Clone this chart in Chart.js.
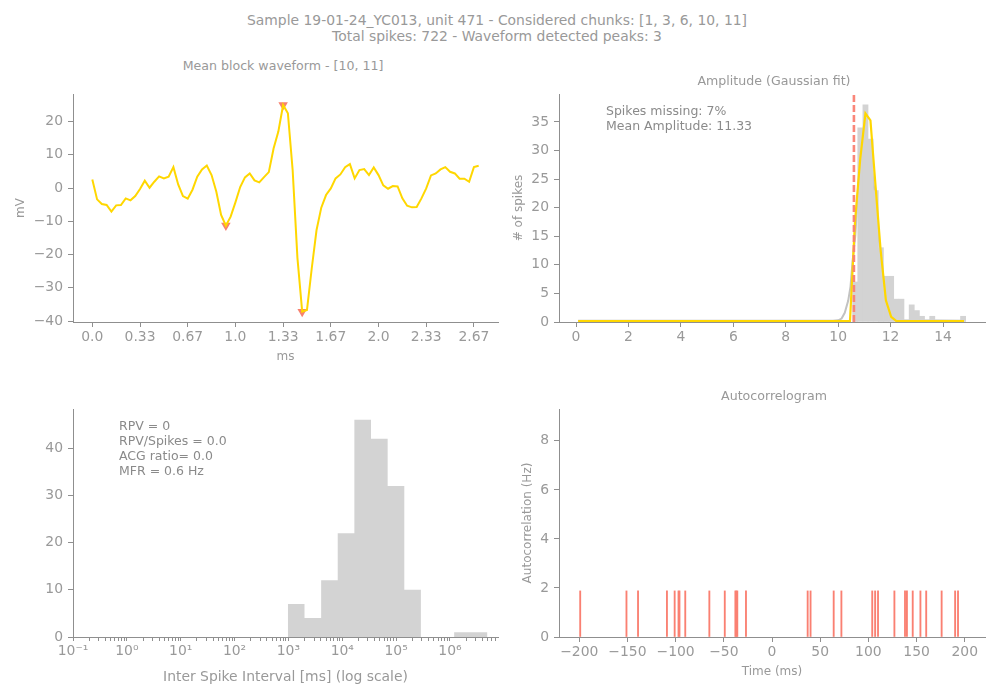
<!DOCTYPE html>
<html>
<head>
<meta charset="utf-8">
<script src="https://cdn.jsdelivr.net/npm/chart.js@4.4.1/dist/chart.umd.min.js"></script>
<style>
  body { margin: 0; background: #fff; }
  #fig { position: relative; width: 1000px; height: 700px; font-family: 'DejaVu Sans', sans-serif; color: #999; }
  canvas { position: absolute; }
  .txt { position: absolute; white-space: pre; }
</style>
</head>
<body>
<div id="fig">
  <canvas id="wave" width="505" height="300" style="left:0px;top:80px"></canvas>
  <canvas id="amp" width="495" height="300" style="left:505px;top:80px"></canvas>
  <canvas id="isi" width="505" height="305" style="left:0px;top:395px"></canvas>
  <canvas id="acg" width="495" height="305" style="left:505px;top:395px"></canvas>

  <div class="txt" style="left:0;width:994px;top:12px;font-size:13.9px;line-height:16px;text-align:center">Sample 19-01-24_YC013, unit 471 - Considered chunks: [1, 3, 6, 10, 11]
Total spikes: 722 - Waveform detected peaks: 3</div>
  <div class="txt" style="left:133px;width:300px;top:58px;font-size:12.6px;line-height:16px;text-align:center">Mean block waveform - [10, 11]</div>
  <div class="txt" style="left:624px;width:300px;top:73px;font-size:12.6px;line-height:16px;text-align:center">Amplitude (Gaussian fit)</div>
  <div class="txt" style="left:624px;width:300px;top:388px;font-size:12.6px;line-height:16px;text-align:center">Autocorrelogram</div>
  <div class="txt" style="left:606px;top:103px;font-size:12.5px;line-height:15px;color:#8a8a8a">Spikes missing: 7%
Mean Amplitude: 11.33</div>
  <div class="txt" style="left:119px;top:418px;font-size:12.5px;line-height:15px;color:#8a8a8a">RPV = 0
RPV/Spikes = 0.0
ACG ratio= 0.0
MFR = 0.6 Hz</div>
</div>

<script>
// ---- data ----
// mean waveform, one value per sample (30 kHz)
var sampleRateKhz = 30;
var waveformMv = [2.6, -3.4, -4.8, -5.1, -7.1, -5.2, -5.1, -3.1, -3.7, -2.4,
                  -0.3, 2.2, 0.1, 1.9, 3.5, 2.9, 3.4, 6.3, 1.1, -2.4,
                  -3.2, -0.5, 3.4, 5.6, 6.8, 3.9, -1.1, -8.1, -11.3, -8.6,
                  -4.3, 0.3, 3.2, 4.4, 2.3, 1.7, 3.3, 4.8, 11.9, 17.0,
                  25.0, 22.5, 5.4, -21.0, -37.2, -36.7, -24.2, -12.7, -5.9, -2.1,
                  -0.1, 2.9, 4.1, 6.3, 7.2, 2.9, 5.4, 5.7, 3.9, 6.2,
                  3.9, 0.8, -0.2, 0.6, 0.5, -3.1, -5.3, -5.8, -5.7, -3.1,
                  -0.1, 3.8, 4.4, 5.6, 6.3, 4.9, 4.4, 2.8, 2.8, 1.9,
                  6.3, 6.7];
var peakIdx = [28, 40, 44];
var waveXTicks = [0, 1 / 3, 2 / 3, 1, 4 / 3, 5 / 3, 2, 7 / 3, 8 / 3];
var waveXTickLabels = ["0.0", "0.33", "0.67", "1.0", "1.33", "1.67", "2.0", "2.33", "2.67"];
var waveYTicks = [-40, -30, -20, -10, 0, 10, 20];

// amplitude histogram
var ampBinStart = 10.55;
var ampBinWidth = 0.196;
var ampCounts = [7, 34, 38, 32, 23, 13, 8, 8, 4, 4, 0, 3, 2, 1, 0, 1, 0, 0, 0, 0, 0, 1];
var ampFitX = [0.08, 10.45, 10.64, 10.84, 11.04, 11.23, 11.43, 11.62, 11.82, 12.02, 12.21, 14.8];
var ampFitY = [0.17, 0.17, 17.5, 28.5, 36.5, 35.3, 23.5, 12.5, 3.8, 0.9, 0.2, 0.17];
var ampKdeX = [0.08, 9.8, 10.0, 10.13, 10.25, 10.38, 10.47, 10.55, 10.65, 10.8, 11.0, 11.2, 11.4, 11.6, 11.8, 12.0, 12.2, 12.5, 14.8];
var ampKdeY = [0.2, 0.2, 0.3, 0.6, 1.6, 3.7, 6.2, 10.7, 15, 26, 33, 31, 22, 12, 5, 2, 0.7, 0.3, 0.2];
var ampCutoff = 10.6;
var ampXTicks = [0, 2, 4, 6, 8, 10, 12, 14];
var ampYTicks = [0, 5, 10, 15, 20, 25, 30, 35];

// inter spike intervals (log bins, ms)
var isiEdgesMs = [977, 1991, 4055, 8241, 16788, 34198, 69663, 141906, 288403, 587489, 1196741, 2437810, 4965923];
var isiCounts = [7, 4, 12, 22, 46, 42, 32, 10, 0, 0, 1, 1];
var isiTickExps = [-1, 0, 1, 2, 3, 4, 5, 6];
var isiYTicks = [0, 10, 20, 30, 40];

// autocorrelogram
var acgLagsMs = [-199, -151, -139, -109, -101, -97, -96, -90, -65, -49, -38, -37, -36, -27,
                 37, 40, 64, 72, 104, 107, 110, 127, 138, 140, 146, 154, 160, 176, 190, 193];
var acgRateHz = [1.88, 1.88, 1.88, 1.88, 1.88, 1.88, 1.88, 1.88, 1.88, 1.88, 1.88, 1.88, 1.88, 1.88,
                 1.88, 1.88, 1.88, 1.88, 1.88, 1.88, 1.88, 1.88, 1.88, 1.88, 1.88, 1.88, 1.88, 1.88, 1.88, 1.88];
var acgXTicks = [-200, -150, -100, -50, 0, 50, 100, 150, 200];
var acgYTicks = [0, 2, 4, 6, 8];

// ---- styling helpers ----
var AXIS_GRAY = "#8f8f8f";
var TICK_GRAY = "#999999";
var LABEL_GRAY = "#999999";

Chart.defaults.font.family = "'DejaVu Sans', sans-serif";

function fmt(v) {
    return String(Math.round(v * 1000) / 1000).replace("-", "\u2212");
}

// horizontal (x) or vertical (y) axis with fixed ticks and a fixed box size
function axis(horizontal, tickValues, fit, extra) {
    var a = {
        offset: false,
        grid: { display: true, drawOnChartArea: false, drawTicks: true, tickLength: 5, tickColor: AXIS_GRAY, offset: false },
        border: { display: true, color: AXIS_GRAY, width: 1 },
        ticks: { color: TICK_GRAY, font: { size: 13.9 }, padding: horizontal ? 2 : 5, autoSkip: false, maxRotation: 0, minRotation: 0,
                 callback: function (v) { return fmt(v); } },
        afterBuildTicks: function (scale) {
            scale.ticks = tickValues.map(function (v) { return { value: v }; });
        },
        afterFit: fit
    };
    for (var k in extra) a[k] = extra[k];
    return a;
}

function title(text, size, pad) {
    return { display: true, text: text, color: LABEL_GRAY, font: { size: size }, padding: pad };
}

function options(pad, scales) {
    return {
        responsive: false,
        animation: false,
        layout: { padding: pad },
        plugins: { legend: { display: false }, tooltip: { enabled: false } },
        scales: scales
    };
}

function xy(xs, ys) {
    return xs.map(function (x, i) { return { x: x, y: ys[i] }; });
}

// ---- mean waveform ----
var waveX = axis(true, waveXTicks, function (s) { s.height = 58; },
    { type: "linear", min: -0.135, max: 2.835, title: title("ms", 12, { top: 0, bottom: 16 }) });
waveX.ticks.callback = function (v, i) { return waveXTickLabels[i]; };

new Chart(document.getElementById("wave"), {
    type: "line",
    data: {
        datasets: [{
            data: waveformMv.map(function (v, i) { return { x: i / sampleRateKhz, y: v }; }),
            borderColor: "#ffd700", borderWidth: 2, pointRadius: 0, tension: 0, order: 0
        }, {
            data: peakIdx.map(function (i) { return { x: i / sampleRateKhz, y: waveformMv[i] }; }),
            showLine: false, pointStyle: "triangle", pointRotation: 180, pointRadius: 5.5,
            pointBackgroundColor: "#f7816f", pointBorderWidth: 0, order: 1
        }]
    },
    options: options({ left: 0, top: 14, right: 7, bottom: 0 }, {
        x: waveX,
        y: axis(false, waveYTicks, function (s) { s.width = 73; },
            { type: "linear", min: -40.3, max: 28.3, title: title("mV", 12, { top: 14, bottom: 0 }) })
    })
});

// ---- amplitude histogram ----
new Chart(document.getElementById("amp"), {
    type: "bar",
    data: {
        datasets: [{
            data: ampCounts.map(function (c, k) { return { x: ampBinStart + (k + 0.5) * ampBinWidth, y: c }; }),
            backgroundColor: "#d3d3d3", borderWidth: 0, barPercentage: 1, categoryPercentage: 1, order: 2
        }, {
            type: "line", data: xy(ampKdeX, ampKdeY),
            borderColor: "#c2c2c2", borderWidth: 2, pointRadius: 0, order: 3
        }, {
            type: "line", data: xy(ampFitX, ampFitY),
            borderColor: "#ffd700", borderWidth: 2.2, pointRadius: 0, order: 1
        }, {
            type: "line", data: [{ x: ampCutoff, y: 0 }, { x: ampCutoff, y: 39.9 }],
            borderColor: "rgba(250,128,114,0.95)", borderWidth: 2.6, borderDash: [7, 3], pointRadius: 0, order: 0
        }]
    },
    options: options({ left: 0, top: 14, right: 15, bottom: 0 }, {
        x: axis(true, ampXTicks, function (s) { s.height = 58; }, { type: "linear", min: -0.65, max: 15.6 }),
        y: axis(false, ampYTicks, function (s) { s.width = 54; },
            { type: "linear", min: 0, max: 39.9, title: title("# of spikes", 12, { top: 7, bottom: 0 }) })
    })
});

// ---- ISI histogram (log x) ----
var SUP = { "-": "\u207b", "0": "\u2070", "1": "\u00b9", "2": "\u00b2", "3": "\u00b3",
            "4": "\u2074", "5": "\u2075", "6": "\u2076", "7": "\u2077", "8": "\u2078", "9": "\u2079" };
var isiMax = 7.8e6;
var isiTicks = [];
isiTickExps.forEach(function (e) {
    for (var k = 1; k <= 9; k++) {
        var v = k * Math.pow(10, e);
        if (v <= isiMax) isiTicks.push(v);
    }
});

var isiX = axis(true, isiTicks, function (s) { s.height = 63; },
    { type: "logarithmic", min: 0.1, max: isiMax,
      title: title("Inter Spike Interval [ms] (log scale)", 13.9, { top: 0, bottom: 14 }) });
isiX.ticks.callback = function (v) {
    var e = Math.log10(v);
    if (Math.abs(e - Math.round(e)) > 1e-6) return "";
    return "10" + String(Math.round(e)).split("").map(function (c) { return SUP[c]; }).join("");
};
isiX.grid.tickLength = 4;

// bins on a log axis: outline of each bar as a filled step polygon
var isiOutline = [];
isiCounts.forEach(function (c, i) {
    isiOutline.push({ x: isiEdgesMs[i], y: 0 }, { x: isiEdgesMs[i], y: c },
                    { x: isiEdgesMs[i + 1], y: c }, { x: isiEdgesMs[i + 1], y: 0 });
});

new Chart(document.getElementById("isi"), {
    type: "line",
    data: {
        datasets: [{
            data: isiOutline,
            backgroundColor: "#d3d3d3", borderWidth: 0, pointRadius: 0, fill: "origin", tension: 0
        }]
    },
    options: options({ left: 0, top: 14, right: 7, bottom: 0 }, {
        x: isiX,
        y: axis(false, isiYTicks, function (s) { s.width = 73; }, { type: "linear", min: 0, max: 48.3 })
    })
});

// ---- autocorrelogram ----
new Chart(document.getElementById("acg"), {
    type: "bar",
    data: {
        datasets: [{
            data: xy(acgLagsMs, acgRateHz),
            backgroundColor: "#fa8072", borderWidth: 0, barThickness: 1.2
        }]
    },
    options: options({ left: 0, top: 14, right: 15, bottom: 0 }, {
        x: axis(true, acgXTicks, function (s) { s.height = 63; },
            { type: "linear", min: -221, max: 221, title: title("Time (ms)", 12, { top: 0, bottom: 21 }) }),
        y: axis(false, acgYTicks, function (s) { s.width = 54; },
            { type: "linear", min: 0, max: 9.3, title: title("Autocorrelation (Hz)", 12, { top: 16, bottom: 0 }) })
    })
});
</script>
</body>
</html>
